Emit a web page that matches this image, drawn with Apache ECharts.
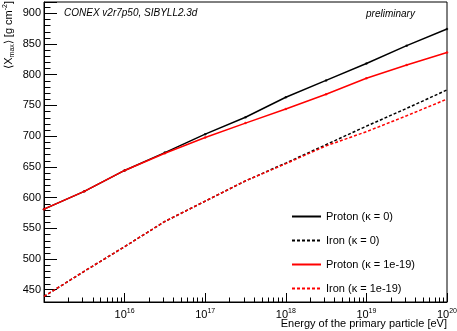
<!DOCTYPE html>
<html>
<head>
<meta charset="utf-8">
<script src="https://cdn.jsdelivr.net/npm/echarts@6/dist/echarts.min.js"></script>
<style>
  html, body { margin: 0; padding: 0; background: #fff; }
  #main { width: 457px; height: 331px; }
</style>
</head>
<body>
<div id="main"></div>
<script>
// primary energy [eV], half-decade steps
var energies = [1e15, 3.16e15, 1e16, 3.16e16, 1e17, 3.16e17, 1e18, 3.16e18, 1e19, 3.16e19, 1e20]
// <Xmax> [g cm^-2]
var protonK0 = [581, 610, 644, 673, 703, 730.5, 763, 790.5, 818, 847, 874]
var ironK0 = [439, 480, 520, 561, 594, 627, 656, 686, 716, 745, 775]
var protonK19 = [581, 610, 644, 672, 697.5, 721, 744, 768, 794, 815.5, 836]
var ironK19 = [439, 480, 520, 561, 594, 627, 655, 684, 707, 733, 760]

var seriesNames = ['Proton (\u03ba = 0)', 'Iron (\u03ba = 0)', 'Proton (\u03ba = 1e-19)', 'Iron (\u03ba = 1e-19)']

// minor tick values (log decades on x, every 10 on y)
var xMinorTicks = [2e15, 3e15, 4e15, 5e15, 6e15, 7e15, 8e15, 9e15,
  2e16, 3e16, 4e16, 5e16, 6e16, 7e16, 8e16, 9e16,
  2e17, 3e17, 4e17, 5e17, 6e17, 7e17, 8e17, 9e17,
  2e18, 3e18, 4e18, 5e18, 6e18, 7e18, 8e18, 9e18,
  2e19, 3e19, 4e19, 5e19, 6e19, 7e19, 8e19, 9e19]
var yMinorTicks = [440, 460, 470, 480, 490, 510, 520, 530, 540, 560, 570, 580, 590,
  610, 620, 630, 640, 660, 670, 680, 690, 710, 720, 730, 740, 760, 770, 780, 790,
  810, 820, 830, 840, 860, 870, 880, 890, 910]

var X_MIN = 1e15
var X_MAX = 1e20
var Y_MIN = 430
var Y_MAX = 918

var FONT = 'Liberation Sans'

function pairs (ys) {
  return energies.map(function (e, i) { return [e, ys[i]] })
}

var tickData = []
xMinorTicks.forEach(function (v) { tickData.push([v, Y_MIN, 0]) })
yMinorTicks.forEach(function (v) { tickData.push([X_MIN, v, 1]) })

var chart = echarts.init(document.getElementById('main'), null, { renderer: 'canvas' })

chart.setOption({
  animation: false,
  textStyle: { fontFamily: FONT, color: '#000' },
  grid: {
    left: 44, right: 10, top: 2, bottom: 29,
    containLabel: false,
    outerBoundsMode: 'none',
    show: true, borderColor: '#000', borderWidth: 1
  },
  legend: {
    data: seriesNames,
    orient: 'vertical',
    left: 286,
    top: 206,
    itemWidth: 29,
    itemHeight: 10,
    itemGap: 13,
    itemStyle: { opacity: 0 },
    textStyle: { fontFamily: FONT, fontSize: 11, color: '#000' }
  },
  xAxis: {
    type: 'log',
    logBase: 10,
    min: X_MIN,
    max: X_MAX,
    splitNumber: 5,
    axisLine: { lineStyle: { color: '#000', width: 1 } },
    axisTick: { inside: true, length: 9, lineStyle: { color: '#000' } },
    splitLine: { show: false },
    axisLabel: {
      margin: 6,
      formatter: function (v) {
        var e = Math.round(Math.log10(v))
        if (e <= 15) return ''
        return '{b|10}{s|' + e + '}'
      },
      rich: {
        b: { fontFamily: FONT, fontSize: 11, color: '#000' },
        s: { fontFamily: FONT, fontSize: 7, color: '#000', verticalAlign: 'bottom', padding: [0, 0, 7, 0] }
      }
    }
  },
  yAxis: {
    type: 'value',
    min: Y_MIN,
    max: Y_MAX,
    splitNumber: 10,
    axisLine: { lineStyle: { color: '#000', width: 1 } },
    axisTick: { inside: true, length: 13, lineStyle: { color: '#000' } },
    splitLine: { show: false },
    axisLabel: {
      margin: 3,
      fontFamily: FONT,
      fontSize: 11,
      color: '#000',
      formatter: function (v) { return v % 50 === 0 ? String(v) : '' }
    }
  },
  graphic: [
    {
      type: 'text',
      x: 9, y: 1,
      rotation: Math.PI / 2,
      style: {
        text: '{t|\u27e8X}{sub|max}{t|\u27e9 [g cm}{sup|-2}{t|]}',
        align: 'right',
        verticalAlign: 'middle',
        rich: {
          t: { fontFamily: FONT, fontSize: 11, fill: '#000' },
          sub: { fontFamily: FONT, fontSize: 7, fill: '#000', verticalAlign: 'top', padding: [7, 0, 0, 0] },
          sup: { fontFamily: FONT, fontSize: 7, fill: '#000', verticalAlign: 'bottom', padding: [0, 0, 7, 0] }
        }
      }
    },
    {
      type: 'text',
      x: 447, y: 324,
      style: {
        text: 'Energy of the primary particle [eV]',
        fontFamily: FONT, fontSize: 11, fill: '#000',
        align: 'right', verticalAlign: 'middle'
      }
    },
    {
      type: 'text',
      left: 64, top: 8,
      style: { text: 'CONEX v2r7p50, SIBYLL2.3d', fontFamily: FONT, fontSize: 10, fontStyle: 'italic', fill: '#000' }
    },
    {
      type: 'text',
      left: 366, top: 9,
      style: { text: 'preliminary', fontFamily: FONT, fontSize: 10, fontStyle: 'italic', fill: '#000' }
    }
  ],
  series: [
    {
      name: seriesNames[1], type: 'line', data: pairs(ironK0),
      symbol: 'none', lineStyle: { color: '#000', width: 1.5, type: [3, 2] }, itemStyle: { color: '#000' }
    },
    {
      name: seriesNames[3], type: 'line', data: pairs(ironK19),
      symbol: 'none', lineStyle: { color: '#ff0000', width: 1.5, type: [3, 2] }, itemStyle: { color: '#ff0000' }
    },
    {
      name: seriesNames[0], type: 'line', data: pairs(protonK0),
      symbol: 'none', lineStyle: { color: '#000', width: 1.5 }, itemStyle: { color: '#000' }
    },
    {
      name: seriesNames[2], type: 'line', data: pairs(protonK19),
      symbol: 'none', lineStyle: { color: '#ff0000', width: 1.5 }, itemStyle: { color: '#ff0000' }
    },
    {
      name: 'protonK0 markers', type: 'scatter', data: pairs(protonK0),
      symbol: 'circle', symbolSize: 2.5, itemStyle: { color: '#000' }, silent: true
    },
    {
      name: 'protonK19 markers', type: 'scatter', data: pairs(protonK19),
      symbol: 'circle', symbolSize: 2.5, itemStyle: { color: '#ff0000' }, silent: true
    },
    {
      name: 'minor ticks', type: 'custom', silent: true, data: tickData,
      renderItem: function (params, api) {
        var p = api.coord([api.value(0), api.value(1)])
        var x = Math.round(p[0]) + 0.5
        var y = Math.round(p[1]) + 0.5
        var shape = api.value(2) === 0
          ? { x1: x, y1: y, x2: x, y2: y - 5 }
          : { x1: x, y1: y, x2: x + 6, y2: y }
        return { type: 'line', shape: shape, style: { stroke: '#000', lineWidth: 1 } }
      }
    }
  ]
})
</script>
</body>
</html>
